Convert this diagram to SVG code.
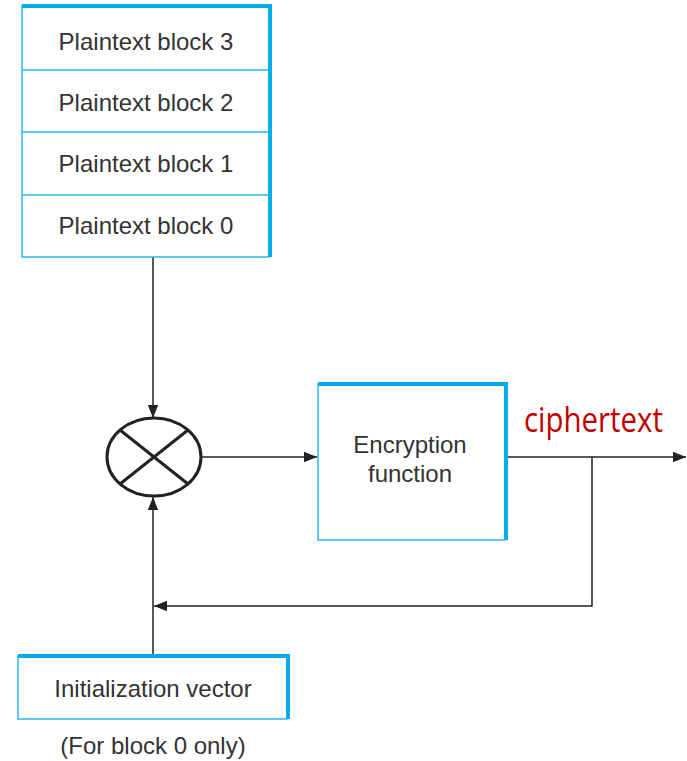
<svg xmlns="http://www.w3.org/2000/svg" width="687" height="761" viewBox="0 0 687 761">
<style>
.box{fill:#fff;stroke:#29b6ec;stroke-width:1.5}
.thick{stroke:#00aeef;stroke-width:4;fill:none}
.t{font-family:"Liberation Sans",Arial,sans-serif;font-size:24px;fill:#333;text-anchor:middle}
.ln{stroke:#222;stroke-width:1.5;fill:none}
</style>
<defs>
<marker id="ah" viewBox="0 0 10 10" refX="10" refY="5" markerWidth="13" markerHeight="13" markerUnits="userSpaceOnUse" orient="auto">
<path d="M0,1 L10,5 L0,9 Z" fill="#222"/>
</marker>
</defs>
<rect width="687" height="761" fill="#fff"/>
<g id="connectors">
<line class="ln" x1="153" y1="257" x2="153" y2="418" marker-end="url(#ah)"/>
<line class="ln" x1="153" y1="655" x2="153" y2="497" marker-end="url(#ah)"/>
<line class="ln" x1="202" y1="457" x2="317" y2="457" marker-end="url(#ah)"/>
<line class="ln" x1="506" y1="457" x2="686" y2="457" marker-end="url(#ah)"/>
<polyline class="ln" points="592,457 592,606 154,606" marker-end="url(#ah)"/>
</g>
<g id="plaintext-stack">
<rect class="box" x="22" y="6" width="247" height="251"/>
<line stroke="#29b6ec" stroke-width="1.5" x1="22" y1="70" x2="269" y2="70"/>
<line stroke="#29b6ec" stroke-width="1.5" x1="22" y1="132" x2="269" y2="132"/>
<line stroke="#29b6ec" stroke-width="1.5" x1="22" y1="195" x2="269" y2="195"/>
<polyline class="thick" points="22,6 270,6 270,257"/>
<text class="t" x="146" y="50">Plaintext block 3</text>
<text class="t" x="146" y="111">Plaintext block 2</text>
<text class="t" x="146" y="172">Plaintext block 1</text>
<text class="t" x="146" y="234">Plaintext block 0</text>
</g>
<g id="xor">
<ellipse cx="154" cy="457" rx="47" ry="39" fill="#fff" stroke="#222" stroke-width="3"/>
<line stroke="#222" stroke-width="3" x1="120" y1="430" x2="188" y2="484"/>
<line stroke="#222" stroke-width="3" x1="188" y1="430" x2="120" y2="484"/>
</g>
<g id="encryption">
<rect class="box" x="318" y="384" width="187" height="156"/>
<polyline class="thick" points="318,384 506,384 506,540"/>
<text class="t" x="410" y="453">Encryption</text>
<text class="t" x="410" y="482">function</text>
</g>
<g id="ciphertext-label">
<text x="524" y="432" font-family="'Open Sans','Noto Sans',sans-serif" font-size="34" fill="#c00000" textLength="139" lengthAdjust="spacingAndGlyphs">ciphertext</text>
</g>
<g id="iv">
<rect class="box" x="18" y="656" width="269" height="63"/>
<polyline class="thick" points="18,656 288,656 288,719"/>
<text class="t" x="153" y="697">Initialization vector</text>
<text class="t" x="153" y="754">(For block 0 only)</text>
</g>
</svg>
